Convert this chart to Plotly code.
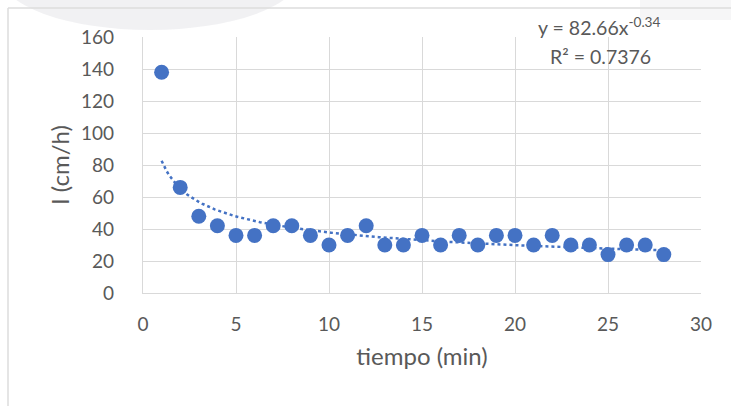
import numpy as np
import plotly.graph_objects as go

tiempo = list(range(1, 29))
infiltracion = [138, 66, 48, 42, 36, 36, 42, 42, 36, 30, 36, 42, 30, 30,
                36, 30, 36, 30, 36, 36, 30, 36, 30, 30, 24, 30, 30, 24]
x_ticks = [0, 5, 10, 15, 20, 25, 30]
y_ticks = [0, 20, 40, 60, 80, 100, 120, 140, 160]

# power trendline fitted from the data (as Excel does)
lx = np.log(np.array(tiempo, float))
ly = np.log(np.array(infiltracion, float))
b, ln_a = np.polyfit(lx, ly, 1)
a = np.exp(ln_a)
xf = np.linspace(1, 28, 200)
yf = a * xf ** b

FONT = "Lato"
GRAY = "#595959"
GRID = "#D9D9D9"
BLUE = "#4472C4"

L, T, W, H = 143, 37, 558, 256


def px(x):
    return (x - L) / W


def py(y):
    return (T + H - y) / H


fig = go.Figure()
fig.add_trace(go.Scatter(x=xf, y=yf, mode="lines",
                         line=dict(color=BLUE, width=2.5, dash="dot"),
                         hoverinfo="skip", showlegend=False))
fig.add_trace(go.Scatter(x=tiempo, y=infiltracion, mode="markers",
                         marker=dict(color=BLUE, size=15), showlegend=False))

fig.update_layout(
    width=731, height=406,
    margin=dict(l=L, r=731 - L - W, t=T, b=406 - T - H),
    paper_bgcolor="white", plot_bgcolor="white",
    font=dict(family=FONT, color=GRAY, size=19),
    xaxis=dict(range=[0, 30], tickvals=x_ticks, showgrid=True, gridcolor=GRID,
               gridwidth=1.3, zeroline=False, showline=True, linecolor=GRID,
               linewidth=1.3, ticks="", ticklabelstandoff=14,
               title=dict(text="tiempo (min)", font=dict(size=24, color=GRAY),
                          standoff=14),
               tickfont=dict(size=19, color=GRAY)),
    yaxis=dict(range=[0, 160], tickvals=y_ticks, showgrid=True, gridcolor=GRID,
               gridwidth=1.3, zeroline=False, showline=True, linecolor=GRID,
               linewidth=1.3, ticks="", ticklabelstandoff=24,
               title=dict(text="I (cm/h)", font=dict(size=24, color=GRAY),
                          standoff=4),
               tickfont=dict(size=19, color=GRAY)),
    shapes=[
        dict(type="circle", xref="paper", yref="paper", layer="below",
             x0=px(0), x1=px(300), y0=py(-80), y1=py(30),
             fillcolor="#EBEBEE", opacity=0.7, line=dict(width=0)),
        dict(type="rect", xref="paper", yref="paper", layer="below",
             x0=px(640), x1=px(740), y0=py(-5), y1=py(20),
             fillcolor="#F2F2F4", opacity=0.7, line=dict(width=0)),
        dict(type="line", xref="paper", yref="paper", x0=px(8), x1=px(740),
             y0=py(8), y1=py(8), line=dict(color="#DDDDDD", width=1.5)),
        dict(type="line", xref="paper", yref="paper", x0=px(8), x1=px(8),
             y0=py(8), y1=py(420), line=dict(color="#DDDDDD", width=1.5)),
    ],
    annotations=[
        dict(xref="paper", yref="paper", x=px(599), y=py(26),
             text="y = %.2fx<sup>%.2f</sup>" % (a, b), showarrow=False,
             font=dict(size=19.5, color=GRAY), xanchor="center", yanchor="middle"),
        dict(xref="paper", yref="paper", x=px(600), y=py(56.5),
             text="R² = 0.7376", showarrow=False,
             font=dict(size=19.5, color=GRAY), xanchor="center", yanchor="middle"),
    ],
)
fig.write_html("out.html")
